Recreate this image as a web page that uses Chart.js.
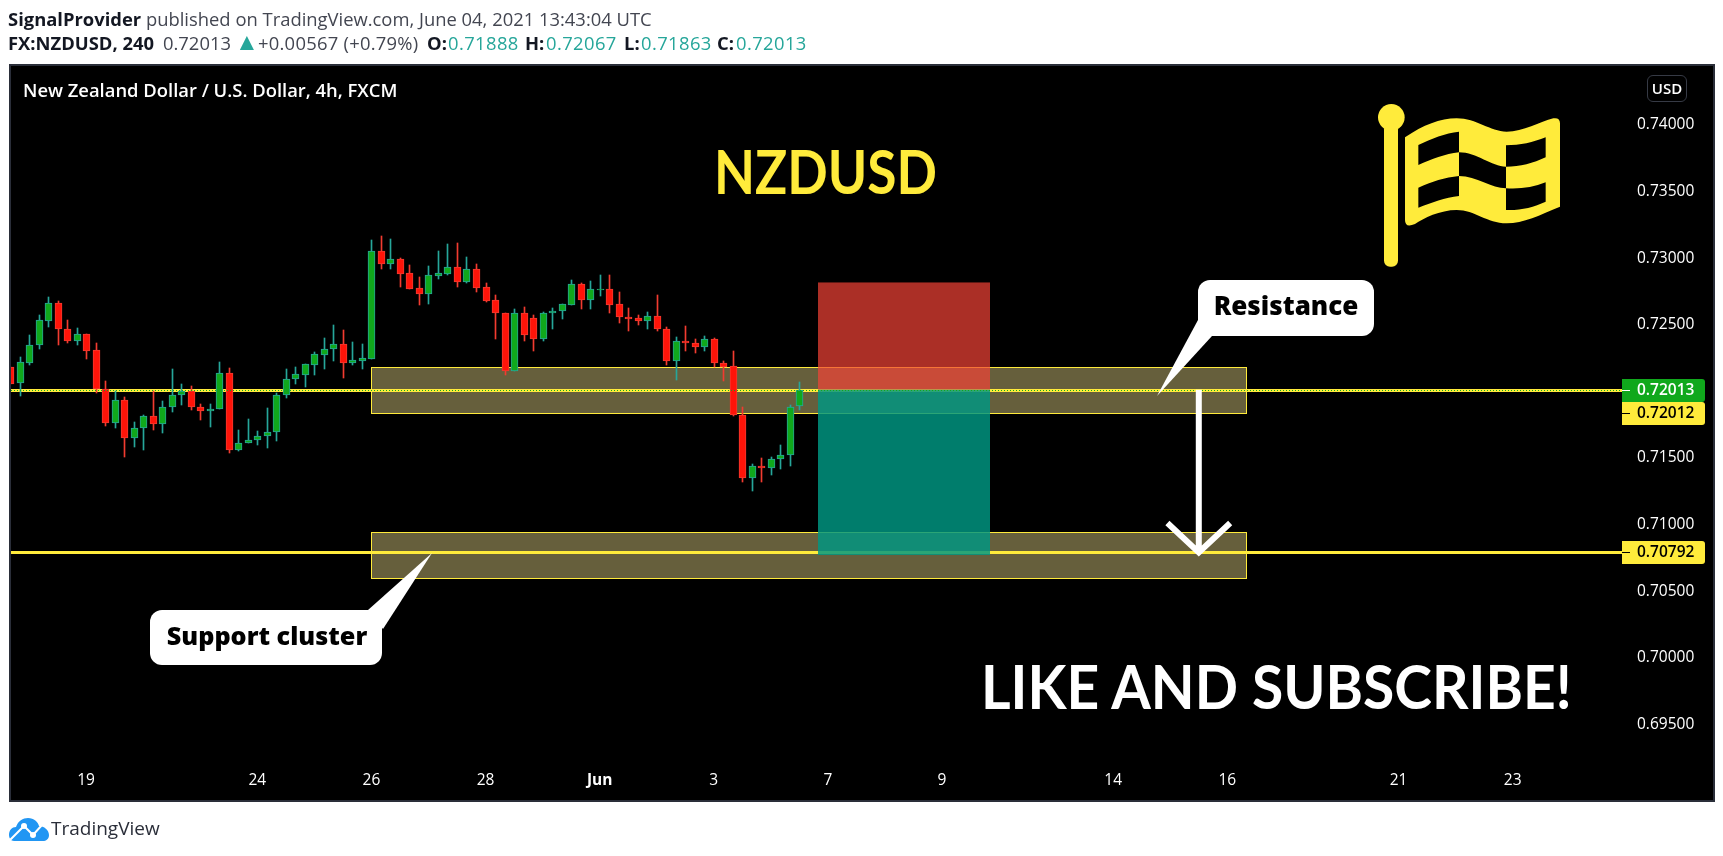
<!DOCTYPE html>
<html>
<head>
<meta charset="utf-8">
<title>NZDUSD</title>
<script src="https://cdn.jsdelivr.net/npm/chart.js@4"></script>
<style>
    html, body { margin: 0; background: #fff; width: 1723px; height: 856px; overflow: hidden; font-family: "Open Sans", sans-serif; }
    div { position: absolute; white-space: nowrap; }
    #frame { left: 9px; top: 64px; width: 1702px; height: 734px; background: #000; border: 2px solid #2a2e39; }
    canvas { position: absolute; left: 0; top: 0; }
    #line1 { left: 8px; top: 7px; font-size: 18.4px; line-height: 24px; color: #434651; }
    #line2 { left: 0; top: 31px; width: 900px; height: 24px; font-size: 18.4px; line-height: 24px; color: #434651; }
    #line2 span, #line2 b { position: absolute; top: 0; }
    b { color: #131722; font-weight: 700; }
    #line2 .up { color: #26a69a; letter-spacing: .4px; }
    #line2 .tri { color: #26a69a; font-size: 24px; top: -2px; }
    #pane { left: 23px; top: 78px; color: #fff; font-size: 18.4px; font-weight: 600; line-height: 24px; }
    #usd { left: 1647px; top: 75px; width: 38px; height: 25px; border: 1px solid #363a45; border-radius: 6px; color: #fff; font-size: 15px; font-weight: 600; line-height: 25px; text-align: center; }
    #title { left: 714px; top: 131px; color: #ffeb3b; font-family: Lato, sans-serif; font-size: 61px; font-weight: 700; line-height: 80px; transform: scaleX(.873); transform-origin: left top; }
    #like { left: 981px; top: 641px; color: #fff; font-family: Lato, sans-serif; font-size: 61px; font-weight: 700; line-height: 90px; transform: scaleX(.934); transform-origin: left top; }
    #logo { left: 9px; top: 817px; width: 40px; height: 24px; }
    #brand { left: 51px; top: 815px; font-size: 19px; line-height: 26px; color: #2a2e39; }
</style>
</head>
<body>
<div id="frame"></div>
<canvas id="chart" width="1723" height="856"></canvas>
<div id="line1"><b>SignalProvider</b> published on TradingView.com, June 04, 2021 13:43:04 UTC</div>
<div id="line2">
    <b style="left:8px">FX:NZDUSD, 240</b>
    <span style="left:163px">0.72013</span>
    <span class="tri" style="left:235px">▲</span>
    <span style="left:258px;letter-spacing:.25px">+0.00567 (+0.79%)</span>
    <b style="left:427px">O:</b><span class="up" style="left:448px">0.71888</span>
    <b style="left:525px">H:</b><span class="up" style="left:546px">0.72067</span>
    <b style="left:624px">L:</b><span class="up" style="left:641px">0.71863</span>
    <b style="left:717px">C:</b><span class="up" style="left:736px">0.72013</span>
</div>
<div id="pane">New Zealand Dollar / U.S. Dollar, 4h, FXCM</div>
<div id="usd">USD</div>
<div id="title">NZDUSD</div>
<div id="like">LIKE AND SUBSCRIBE!</div>
<div id="logo"><svg width="40" height="24" viewBox="0 0 40 24"><path fill="#2196f3" d="M0 18 C0 13 3 10 7 10 C9 4 14 1 19 1 C25 1 29 5 30 9 C35 9 40 13 40 18 C40 22 37 24 34 24 L5 24 C2 24 0 21 0 18 Z"/><path fill="none" stroke="#fff" stroke-width="2" d="M1 23 L15 9 L24 18 L33 8"/><circle cx="15" cy="9" r="3" fill="#fff"/><circle cx="24" cy="18" r="3" fill="#fff"/></svg></div>
<div id="brand">TradingView</div>
<script>
const opens = [.72182,.72060,.72217,.72345,.72532,.72662,.72467,.72375,.72430,.72310,
    .72017,.71760,.71935,.71647,.71722,.71815,.71752,.71880,.71970,.72002,
    .71882,.71850,.71865,.72137,.71557,.71610,.71632,.71662,.71692,.71970,
    .72090,.72127,.72202,.72277,.72315,.72355,.72210,.72232,.72247,.73052,
    .72960,.72992,.72887,.72775,.72735,.72870,.72885,.72932,.72825,.72917,
    .72782,.72685,.72587,.72157,.72587,.72550,.72390,.72585,.72600,.72652,
    .72805,.72690,.72765,.72767,.72655,.72557,.72550,.72525,.72565,.72467,
    .72232,.72377,.72362,.72330,.72392,.72212,.72190,.71822,.71347,.71440,
    .71422,.71490,.71520,.71888];
const closes = [.72059,.72220,.72347,.72535,.72662,.72465,.72375,.72430,.72307,.72015,
    .71760,.71935,.71647,.71725,.71815,.71752,.71882,.71972,.72002,.71880,
    .71850,.71867,.72137,.71557,.71612,.71635,.71665,.71695,.71972,.72092,
    .72130,.72205,.72280,.72317,.72355,.72210,.72235,.72250,.73052,.72960,
    .72992,.72885,.72772,.72735,.72872,.72887,.72932,.72825,.72917,.72780,
    .72682,.72585,.72157,.72587,.72427,.72390,.72587,.72602,.72655,.72805,
    .72690,.72767,.72767,.72652,.72555,.72547,.72525,.72565,.72465,.72232,
    .72377,.72360,.72330,.72392,.72210,.72187,.71822,.71347,.71440,.71422,
    .71492,.71522,.71882,.72013];
const highs = [.72182,.72260,.72425,.72575,.72707,.72680,.72535,.72477,.72430,.72362,
    .72077,.72002,.71957,.71770,.71822,.72000,.71927,.72170,.72057,.72040,
    .71905,.71905,.72220,.72175,.71712,.71792,.71702,.71875,.71987,.72167,
    .72182,.72205,.72295,.72400,.72497,.72460,.72370,.72355,.73135,.73165,
    .73142,.73002,.72947,.72857,.72942,.73052,.73105,.73112,.73007,.72955,
    .72812,.72722,.72587,.72617,.72632,.72572,.72595,.72625,.72655,.72835,
    .72812,.72827,.72872,.72872,.72745,.72625,.72572,.72595,.72722,.72482,
    .72407,.72490,.72392,.72415,.72400,.72227,.72302,.71882,.71455,.71500,
    .71507,.71597,.71897,.72067];
const lows = [.72059,.71962,.72195,.72322,.72487,.72352,.72365,.72345,.72247,.71985,
    .71737,.71722,.71505,.71580,.71557,.71707,.71685,.71842,.71895,.71857,
    .71782,.71730,.71865,.71535,.71550,.71610,.71595,.71572,.71625,.71947,
    .72052,.72030,.72127,.72172,.72232,.72097,.72202,.72165,.72240,.72922,
    .72922,.72787,.72772,.72652,.72660,.72847,.72877,.72787,.72817,.72750,
    .72675,.72390,.72120,.72157,.72382,.72307,.72375,.72472,.72547,.72652,
    .72615,.72622,.72720,.72592,.72517,.72457,.72495,.72472,.72457,.72202,
    .72082,.72300,.72285,.72307,.72180,.72075,.71812,.71317,.71250,.71317,
    .71370,.71415,.71437,.71863];

const priceTicks = [.695, .7, .705, .71, .715, .72, .725, .73, .735, .74];
const dayTicks = [8, 26, 38, 50, 62, 74, 86, 98, 116, 128, 146, 158];
const dayLabels = ['19', '24', '26', '28', 'Jun', '3', '7', '9', '14', '16', '21', '23'];

const zoneTops = [.72181, .70942];
const zoneBottoms = [.71836, .70597];
const zoneFrom = 38;
const zoneTo = 130;

const lastPrice = .72013;
const levelPrices = [.72012, .70792];

const tradeFrom = 85;
const tradeTo = 103;
const stopPrice = .72818;
const entryPrice = .72013;
const targetPrice = .70772;

const arrowX = 125;
const arrowTop = .72013;
const arrowTip = .70792;
const arrowHeadX = 3.3;
const arrowHeadPrice = .71012;

const GREEN = '#10a81c';
const RED = '#ff1409';
const TEAL = '#26a69a';
const REDEDGE = '#f23b30';
const YELLOW = '#ffeb3b';

const isUp = opens.map((o, i) => closes[i] >= o);

function roundRectPath(ctx, x, y, w, h, r) {
    ctx.beginPath();
    ctx.roundRect(x, y, w, h, r);
}

function callout(ctx, text, size, x, y, w, h, tail, textX, textY) {
    ctx.fillStyle = '#fff';
    roundRectPath(ctx, x, y, w, h, 12);
    ctx.fill();
    ctx.beginPath();
    ctx.moveTo(tail[0], tail[1]);
    ctx.lineTo(tail[2], tail[3]);
    ctx.lineTo(tail[4], tail[5]);
    ctx.closePath();
    ctx.fill();
    ctx.fillStyle = '#000';
    ctx.font = `800 ${size}px "Open Sans"`;
    ctx.textAlign = 'center';
    ctx.textBaseline = 'middle';
    ctx.fillText(text, textX, textY);
}

function priceTag(ctx, text, bg, fg, top) {
    ctx.fillStyle = bg;
    roundRectPath(ctx, 1622, top, 83, 23, [0, 3, 3, 0]);
    ctx.fill();
    ctx.fillStyle = fg;
    ctx.fillRect(1622, Math.round(top + 11), 8, 1);
    ctx.font = '600 15.5px "Open Sans"';
    ctx.textAlign = 'left';
    ctx.textBaseline = 'middle';
    ctx.fillText(text, 1637, top + 12);
}

function drawFlag(ctx) {
    ctx.save();
    ctx.translate(1360, 60);
    ctx.scale(1 / 3, 1 / 3);
    ctx.fillStyle = YELLOW;
    ctx.beginPath();
    ctx.arc(94, 172, 40, 0, Math.PI * 2);
    ctx.fill();
    roundRectPath(ctx, 72, 190, 42, 430, 18);
    ctx.fill();
    ctx.fill(new Path2D('M135 232 C190 195 240 175 290 175 C350 175 390 215 440 215 C490 215 540 185 580 175 Q600 172 600 190 L600 440 C540 465 490 490 440 490 C380 490 345 450 290 450 C240 450 190 475 165 492 Q135 505 135 480 Z'));
    ctx.fillStyle = '#000';
    ctx.fill(new Path2D('M175 255 C215 235 255 220 297 215 L297 277 C255 282 215 297 175 315 Z'));
    ctx.fill(new Path2D('M438 256 C480 256 520 247 557 232 L557 292 C520 310 480 320 438 320 Z'));
    ctx.fill(new Path2D('M297 277 C350 277 395 320 438 320 L438 385 C395 385 350 348 297 348 Z'));
    ctx.fill(new Path2D('M175 383 C215 365 255 352 297 348 L297 408 C255 412 215 428 175 443 Z'));
    ctx.fill(new Path2D('M438 385 C480 388 520 382 557 367 L557 425 C520 442 480 452 438 450 Z'));
    ctx.restore();
}

// keep candles on whole pixels like the original renderer does
const snapBars = {
    id: 'snapBars',
    afterDatasetsUpdate(chart) {
        chart.data.datasets.forEach((_, di) => {
            chart.getDatasetMeta(di).data.forEach(el => {
                el.x = Math.round(el.x) + .5;
                el.y = Math.round(el.y);
                el.base = Math.round(el.base);
            });
        });
    },
};

const backLayer = {
    id: 'backLayer',
    beforeDatasetsDraw(chart) {
        const { ctx, chartArea: a, scales: { x, y } } = chart;
        ctx.save();
        zoneTops.forEach((top, i) => {
            const px = Math.round(x.getPixelForValue(zoneFrom));
            const pw = Math.round(x.getPixelForValue(zoneTo)) - px;
            const py = Math.round(y.getPixelForValue(top));
            const ph = Math.round(y.getPixelForValue(zoneBottoms[i])) - py;
            ctx.fillStyle = '#665f3c';
            ctx.fillRect(px, py, pw, ph);
            ctx.strokeStyle = YELLOW;
            ctx.lineWidth = 1;
            ctx.strokeRect(px + .5, py + .5, pw, ph);
        });
        ctx.fillStyle = YELLOW;
        levelPrices.forEach(p => {
            ctx.fillRect(a.left, Math.round(y.getPixelForValue(p)) - 1, a.right - a.left, 3);
        });
        const bx = Math.round(x.getPixelForValue(tradeFrom));
        const bw = Math.round(x.getPixelForValue(tradeTo)) - bx;
        const yStop = y.getPixelForValue(stopPrice);
        const yEntry = y.getPixelForValue(entryPrice);
        const yTarget = y.getPixelForValue(targetPrice);
        ctx.fillStyle = 'rgba(244,67,54,.7)';
        ctx.fillRect(bx, yStop, bw, yEntry - yStop);
        ctx.fillStyle = 'rgba(0,150,130,.83)';
        ctx.fillRect(bx, yEntry, bw, yTarget - yEntry);
        ctx.restore();
    },
};

const frontLayer = {
    id: 'frontLayer',
    afterDraw(chart) {
        const { ctx, chartArea: a, scales: { x, y } } = chart;
        ctx.save();
        const yLast = Math.round(y.getPixelForValue(lastPrice)) + .5;
        ctx.strokeStyle = GREEN;
        ctx.lineWidth = 1;
        ctx.setLineDash([1, 2]);
        ctx.beginPath();
        ctx.moveTo(a.left, yLast);
        ctx.lineTo(a.right, yLast);
        ctx.stroke();
        ctx.setLineDash([]);

        ctx.strokeStyle = '#fff';
        ctx.lineWidth = 6;
        ctx.lineCap = 'butt';
        ctx.lineJoin = 'miter';
        const ax = x.getPixelForValue(arrowX);
        const tip = y.getPixelForValue(arrowTip);
        ctx.beginPath();
        ctx.moveTo(ax, y.getPixelForValue(arrowTop));
        ctx.lineTo(ax, tip);
        ctx.moveTo(x.getPixelForValue(arrowX - arrowHeadX), y.getPixelForValue(arrowHeadPrice));
        ctx.lineTo(ax, tip);
        ctx.lineTo(x.getPixelForValue(arrowX + arrowHeadX), y.getPixelForValue(arrowHeadPrice));
        ctx.stroke();

        callout(ctx, 'Resistance', 26, 1198, 280, 176, 56, [1198, 320, 1157, 396, 1212, 336], 1286, 308);
        callout(ctx, 'Support cluster', 25.2, 150, 610, 232, 55, [368, 610, 432, 553, 383, 629], 267, 638);

        priceTag(ctx, lastPrice.toFixed(5), GREEN, '#fff', 379);
        priceTag(ctx, levelPrices[0].toFixed(5), YELLOW, '#000', 402);
        priceTag(ctx, levelPrices[1].toFixed(5), YELLOW, '#000', Math.round(y.getPixelForValue(levelPrices[1])) - 11);

        drawFlag(ctx);
        ctx.restore();
    },
};

new Chart(document.getElementById('chart'), {
    type: 'bar',
    data: {
        datasets: [
            {
                label: 'body',
                order: 1,
                data: opens.map((o, i) => ({ x: i, y: [o, closes[i]] })),
                backgroundColor: isUp.map(up => up ? GREEN : RED),
                borderColor: isUp.map(up => up ? TEAL : REDEDGE),
                borderWidth: 1,
                borderSkipped: false,
                barThickness: 7,
                grouped: false,
            },
            {
                label: 'wick',
                order: 2,
                data: lows.map((l, i) => ({ x: i, y: [l, highs[i]] })),
                backgroundColor: isUp.map(up => up ? TEAL : REDEDGE),
                borderWidth: 0,
                barThickness: 1,
                grouped: false,
            },
        ],
    },
    options: {
        responsive: false,
        animation: false,
        layout: { padding: { left: 11, top: 66, right: 10, bottom: 56 } },
        plugins: { legend: { display: false }, tooltip: { enabled: false } },
        scales: {
            x: {
                type: 'linear',
                offset: false,
                min: .105,
                max: 169.5,
                grid: { display: false },
                border: { display: false },
                afterBuildTicks(scale) {
                    scale.ticks = dayTicks.map(value => ({ value }));
                },
                afterFit(scale) {
                    scale.height = 40;
                },
                ticks: {
                    autoSkip: false,
                    maxRotation: 0,
                    padding: 3,
                    color: '#fff',
                    font: ctx => ({
                        family: '"Open Sans"',
                        size: 15.5,
                        weight: ctx.tick && ctx.tick.label === 'Jun' ? '700' : '400',
                    }),
                    callback: value => dayLabels[dayTicks.indexOf(value)],
                },
            },
            y: {
                position: 'right',
                min: .69233,
                max: .74443,
                grid: { display: false, drawTicks: false },
                border: { display: false },
                afterBuildTicks(scale) {
                    scale.ticks = priceTicks.map(value => ({ value }));
                },
                afterFit(scale) {
                    scale.width = 91;
                },
                ticks: {
                    padding: 15,
                    color: '#fff',
                    font: { family: '"Open Sans"', size: 15.5 },
                    callback: value => value.toFixed(5),
                },
            },
        },
    },
    plugins: [snapBars, backLayer, frontLayer],
});
</script>
</body>
</html>
